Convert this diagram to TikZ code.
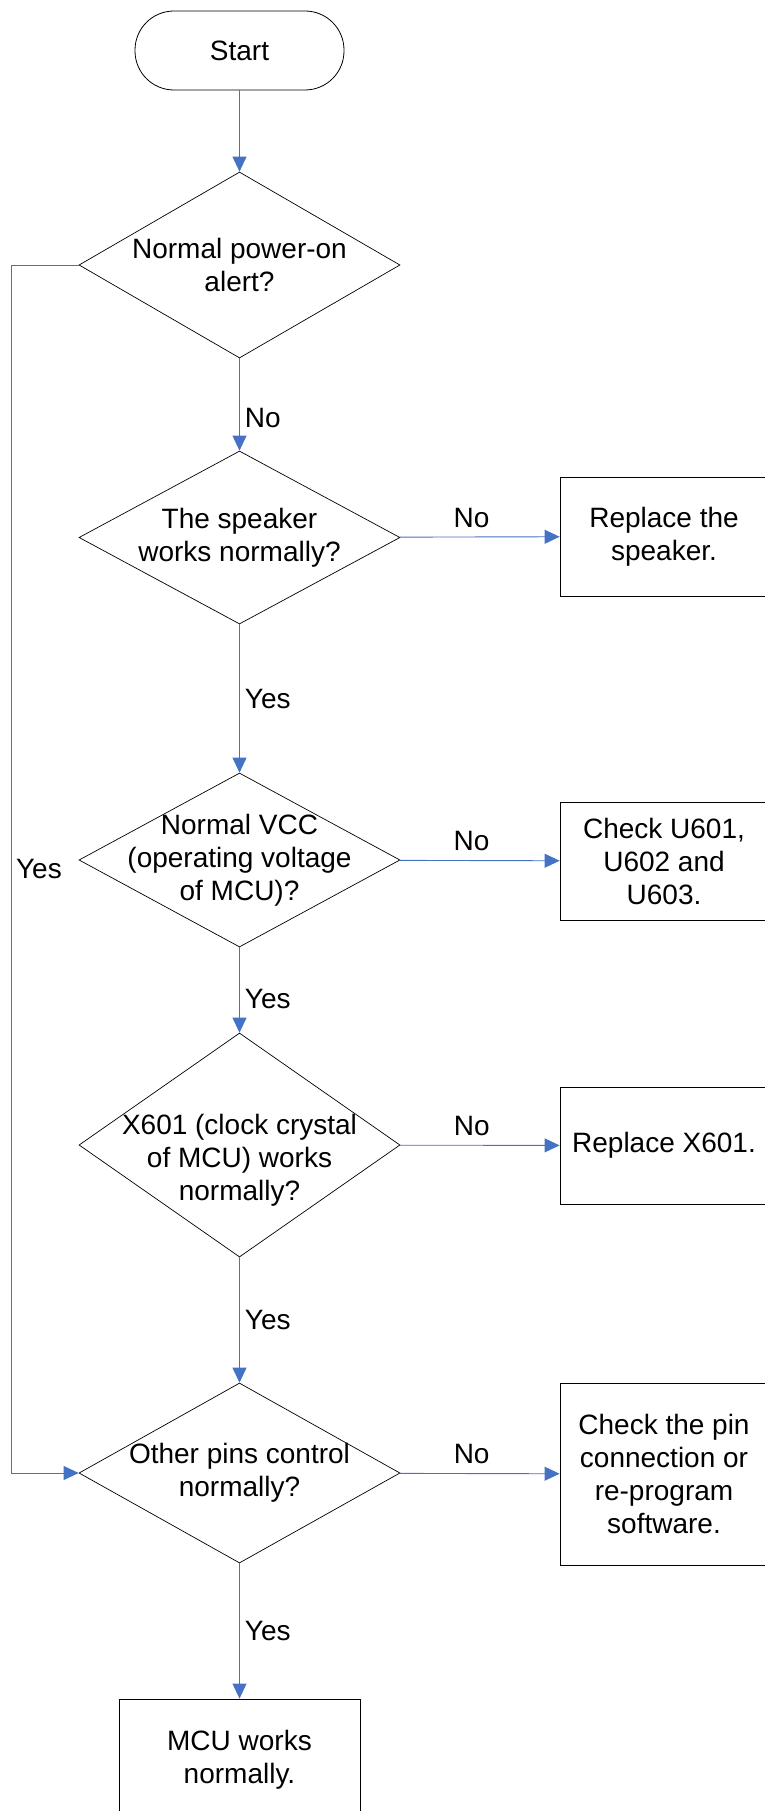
\documentclass[tikz,border=0pt]{standalone}
\usepackage{fontspec}
\setmainfont{Liberation Sans}
\usetikzlibrary{shapes.geometric,arrows.meta}
\definecolor{linkblue}{HTML}{4472C4}

\begin{document}
\begin{tikzpicture}[x=1pt,y=-1pt,
    font=\fontsize{28}{33}\selectfont,
    terminal/.style={draw,rounded corners=39pt,minimum width=209pt,minimum height=79pt,line width=0.8pt},
    decision/.style={draw,diamond,minimum width=321pt,inner sep=0pt,line width=0.7pt},
    qtext/.style={align=center},
    action/.style={draw,rectangle,minimum width=208pt,align=center,line width=0.8pt},
    link/.style={linkblue,line width=0.9pt,-{Triangle[length=15pt,width=14pt]}},
    answer/.style={inner sep=2pt,text=black}]
    \useasboundingbox (0,0) rectangle (764,1811);

    % Main column
    \node[terminal] (start) at (239.5,50.5) {Start};
    \node[decision,minimum height=186pt,label={[qtext]center:{Normal power-on\\alert?}}] (alert) at (239.5,265) {};
    \node[decision,minimum height=173pt,label={[qtext]center:{The speaker\\works normally?}}] (speaker) at (239.5,537.5) {};
    \node[decision,minimum height=174pt,label={[qtext]center:{Normal VCC\\(operating voltage\\of MCU)?}}] (vcc) at (239.5,860) {};
    \node[decision,minimum height=224pt,label={[qtext,yshift=-15pt]center:{X601 (clock crystal\\of MCU) works\\normally?}}] (crystal) at (239.5,1145) {};
    \node[decision,minimum height=180pt,label={[qtext]center:{Other pins control\\normally?}}] (pins) at (239.5,1473) {};
    \node[action,minimum width=241pt,minimum height=122pt] (ok) at (239.5,1760) {MCU works\\normally.};

    % Repair actions
    \node[action,minimum height=119pt] (newspk) at (664,536.5) {Replace the\\speaker.};
    \node[action,minimum height=118pt] (regs) at (664,861) {Check U601,\\U602 and\\U603.};
    \node[action,minimum height=117pt] (newx) at (664,1145.5) {Replace X601.};
    \node[action,minimum height=182pt] (reprog) at (664,1474) {Check the pin\\connection or\\re-program\\software.};

    % Downward flow
    \draw[link] (start) -- (alert);
    \draw[link] (alert) -- node[answer,pos=0.65,right=3pt] {No} (speaker);
    \draw[link] (speaker) -- node[answer,right=3pt] {Yes} (vcc);
    \draw[link] (vcc) -- node[answer,pos=0.6,right=3pt] {Yes} (crystal);
    \draw[link] (crystal) -- node[answer,right=3pt] {Yes} (pins);
    \draw[link] (pins) -- node[answer,right=3pt] {Yes} (ok);

    % Side branches
    \draw[link] (speaker) -- node[answer,pos=0.45,above=7pt] {No} (newspk);
    \draw[link] (vcc) -- node[answer,pos=0.45,above=7pt] {No} (regs);
    \draw[link] (crystal) -- node[answer,pos=0.45,above=7pt] {No} (newx);
    \draw[link] (pins) -- node[answer,pos=0.45,above=7pt] {No} (reprog);

    % Bypass on the left
    \draw[link] (alert.west) -- ++(-67,0) |- node[answer,pos=0.25,right=2pt] {Yes} (pins.west);
\end{tikzpicture}
\end{document}
